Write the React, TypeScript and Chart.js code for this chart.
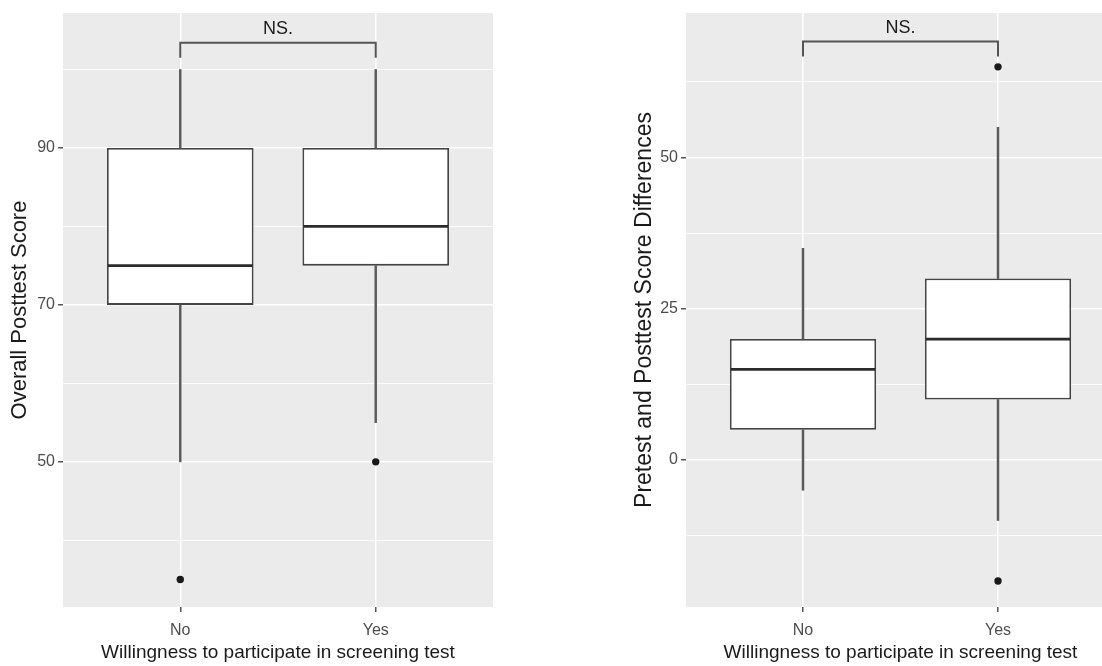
import React, { useEffect, useRef } from "react";
import { Chart, registerables } from "chart.js";
Chart.register(...registerables);

const categories = ["No", "Yes"];
const xTitle = "Willingness to participate in screening test";
const sigLabel = "NS.";

// Left panel: Overall Posttest Score
const leftTitle = "Overall Posttest Score";
const leftWhiskerLow = [50, 55];
const leftQ1 = [70, 75];
const leftMedian = [75, 80];
const leftQ3 = [90, 90];
const leftWhiskerHigh = [100, 100];
const leftOutliers = [[35], [50]];
const leftMajorTicks = [50, 70, 90];
const leftMinorTicks = [40, 60, 80, 100];
const leftRange = [31.5, 107.2];
const leftBracket = [103.4, 101.5, 105.1]; // bar, tips, label

// Right panel: Pretest and Posttest Score Differences
const rightTitle = "Pretest and Posttest Score Differences";
const rightWhiskerLow = [-5, -10];
const rightQ1 = [5, 10];
const rightMedian = [15, 20];
const rightQ3 = [20, 30];
const rightWhiskerHigh = [35, 55];
const rightOutliers = [[], [65, -20]];
const rightMajorTicks = [0, 25, 50];
const rightMinorTicks = [-12.5, 12.5, 37.5, 62.5];
const rightRange = [-24.3, 73.9];
const rightBracket = [69.2, 66.7, 71.4];

type PanelCfg = {
  title: string;
  titleSize: number;
  low: number[];
  q1: number[];
  med: number[];
  q3: number[];
  high: number[];
  outliers: number[][];
  major: number[];
  minor: number[];
  range: number[];
  bracket: number[];
};

const FONT = "'Liberation Sans', Arial, sans-serif";

function Panel(props: {
  cfg: PanelCfg;
  left: number;
  width: number;
  height: number;
  padding: { left: number; top: number; right: number; bottom: number };
  yAxisWidth: number;
}) {
  const ref = useRef<HTMLCanvasElement>(null);
  useEffect(() => {
    const { cfg } = props;
    const idx = categories.map((_, i) => i + 1);
    const box = idx.map((x, i) => ({ x, y: [cfg.q1[i], cfg.q3[i]] }));
    const upper = idx.map((x, i) => ({ x, y: [cfg.q3[i], cfg.high[i]] }));
    const lower = idx.map((x, i) => ({ x, y: [cfg.low[i], cfg.q1[i]] }));
    const outPts = idx.flatMap((x, i) => cfg.outliers[i].map((y) => ({ x, y })));
    const allTicks = [...cfg.major, ...cfg.minor].sort((a, b) => a - b);
    const isMajor = (v: number) => cfg.major.includes(v);

    const bgPlugin = {
      id: "panelBg",
      beforeDraw(chart: any) {
        const { ctx, chartArea: a } = chart;
        ctx.save();
        ctx.fillStyle = "#EBEBEB";
        ctx.fillRect(a.left, a.top, a.right - a.left, a.bottom - a.top);
        ctx.restore();
      },
    };

    const boxPlugin = {
      id: "boxExtras",
      afterDatasetsDraw(chart: any) {
        const { ctx } = chart;
        const xs = chart.scales.x;
        const ys = chart.scales.y;
        const meta = chart.getDatasetMeta(2);
        ctx.save();
        meta.data.forEach((el: any, i: number) => {
          const { x, width } = el.getProps(["x", "width"], true);
          const y = ys.getPixelForValue(cfg.med[i]);
          ctx.strokeStyle = "#2b2b2b";
          ctx.lineWidth = 2.8;
          ctx.beginPath();
          ctx.moveTo(x - width / 2 + 1, y);
          ctx.lineTo(x + width / 2 - 1, y);
          ctx.stroke();
        });
        const x1 = xs.getPixelForValue(1);
        const x2 = xs.getPixelForValue(2);
        const yb = ys.getPixelForValue(cfg.bracket[0]);
        const yt = ys.getPixelForValue(cfg.bracket[1]);
        const yl = ys.getPixelForValue(cfg.bracket[2]);
        ctx.strokeStyle = "#555555";
        ctx.lineWidth = 2;
        ctx.beginPath();
        ctx.moveTo(x1, yt);
        ctx.lineTo(x1, yb);
        ctx.lineTo(x2, yb);
        ctx.lineTo(x2, yt);
        ctx.stroke();
        ctx.fillStyle = "#1a1a1a";
        ctx.font = `18px ${FONT}`;
        ctx.textAlign = "center";
        ctx.textBaseline = "middle";
        ctx.fillText(sigLabel, (x1 + x2) / 2, yl);
        ctx.restore();
      },
    };

    const chart = new Chart(ref.current!, {
      type: "bar",
      data: {
        datasets: [
          {
            data: upper as any,
            backgroundColor: "#5a5a5a",
            borderWidth: 0,
            barThickness: 1.8,
            grouped: false,
          } as any,
          {
            data: lower as any,
            backgroundColor: "#5a5a5a",
            borderWidth: 0,
            barThickness: 1.8,
            grouped: false,
          } as any,
          {
            data: box as any,
            backgroundColor: "#FFFFFF",
            borderColor: "#444444",
            borderWidth: 1.8,
            borderSkipped: false,
            barPercentage: 0.75,
            categoryPercentage: 1,
            grouped: false,
          } as any,
          {
            type: "scatter",
            data: outPts as any,
            backgroundColor: "#1a1a1a",
            borderWidth: 0,
            pointRadius: 3.7,
          } as any,
        ],
      },
      options: {
        animation: false,
        responsive: false,
        events: [],
        layout: { padding: props.padding },
        plugins: { legend: { display: false }, tooltip: { enabled: false } },
        scales: {
          x: {
            type: "linear",
            min: 0.4,
            max: 2.6,
            offset: false,
            afterBuildTicks: (axis: any) => {
              axis.ticks = idx.map((v) => ({ value: v }));
            },
            afterFit: (axis: any) => {
              axis.height = 59;
            },
            border: { display: false },
            grid: {
              offset: false,
              color: "#FFFFFF",
              lineWidth: 1.5,
              tickColor: "#555555",
              tickLength: 5,
            },
            ticks: {
              color: "#4D4D4D",
              font: { family: FONT, size: 16 },
              padding: 9,
              maxRotation: 0,
              autoSkip: false,
              callback: (v: any) => categories[Math.round(Number(v)) - 1] ?? "",
            },
            title: {
              display: true,
              text: xTitle,
              color: "#1a1a1a",
              font: { family: FONT, size: 19 },
              padding: { top: 0, bottom: 2 },
            },
          },
          y: {
            type: "linear",
            min: cfg.range[0],
            max: cfg.range[1],
            afterBuildTicks: (axis: any) => {
              axis.ticks = allTicks.map((v) => ({ value: v }));
            },
            afterFit: (axis: any) => {
              axis.width = props.yAxisWidth;
            },
            border: { display: false },
            grid: {
              color: "#FFFFFF",
              lineWidth: (c: any) => (c.tick && isMajor(c.tick.value) ? 1.5 : 0.8),
              tickColor: (c: any) =>
                c.tick && isMajor(c.tick.value) ? "#555555" : "rgba(0,0,0,0)",
              tickLength: 5,
            },
            ticks: {
              color: "#4D4D4D",
              font: { family: FONT, size: 16 },
              padding: 3,
              autoSkip: false,
              callback: (v: any) => (isMajor(Number(v)) ? String(v) : ""),
            },
            title: {
              display: true,
              text: cfg.title,
              color: "#1a1a1a",
              font: { family: FONT, size: cfg.titleSize },
              padding: { top: 7, bottom: 0 },
            },
          },
        },
      } as any,
      plugins: [bgPlugin, boxPlugin],
    });
    return () => chart.destroy();
  }, []);
  return (
    <canvas
      ref={ref}
      width={props.width}
      height={props.height}
      style={{ position: "absolute", left: props.left, top: 0, width: props.width, height: props.height }}
    />
  );
}

export default function App() {
  useEffect(() => {
    document.body.style.margin = "0";
  }, []);
  const leftCfg: PanelCfg = {
    title: leftTitle,
    titleSize: 22,
    low: leftWhiskerLow,
    q1: leftQ1,
    med: leftMedian,
    q3: leftQ3,
    high: leftWhiskerHigh,
    outliers: leftOutliers,
    major: leftMajorTicks,
    minor: leftMinorTicks,
    range: leftRange,
    bracket: leftBracket,
  };
  const rightCfg: PanelCfg = {
    title: rightTitle,
    titleSize: 23,
    low: rightWhiskerLow,
    q1: rightQ1,
    med: rightMedian,
    q3: rightQ3,
    high: rightWhiskerHigh,
    outliers: rightOutliers,
    major: rightMajorTicks,
    minor: rightMinorTicks,
    range: rightRange,
    bracket: rightBracket,
  };
  return (
    <div style={{ position: "relative", width: 1102, height: 666, overflow: "hidden", background: "#fff" }}>
      <Panel
        cfg={leftCfg}
        left={0}
        width={540}
        height={666}
        padding={{ left: 0, top: 13, right: 47, bottom: 0 }}
        yAxisWidth={63}
      />
      <Panel
        cfg={rightCfg}
        left={540}
        width={600}
        height={666}
        padding={{ left: 84, top: 13, right: 25, bottom: 0 }}
        yAxisWidth={62}
      />
    </div>
  );
}
